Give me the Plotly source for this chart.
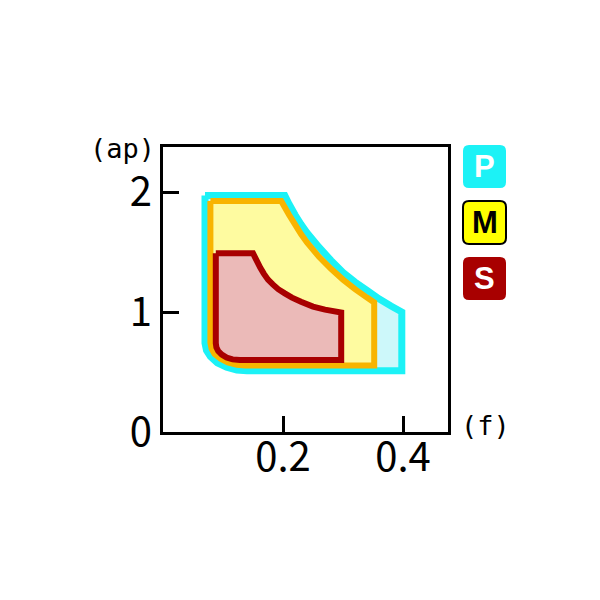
import plotly.graph_objects as go

# Region outlines (f, ap) (line centres)
p_f = [0.070, 0.203, 0.21, 0.22, 0.23, 0.24, 0.25, 0.26, 0.28, 0.30, 0.32, 0.34, 0.36, 0.38, 0.398,
       0.398, 0.140, 0.123, 0.106, 0.0905, 0.079, 0.0725, 0.070, 0.070]
p_ap = [1.97, 1.97, 1.90, 1.81, 1.73, 1.66, 1.60, 1.54, 1.43, 1.33, 1.25, 1.18, 1.11, 1.05, 1.00,
        0.51, 0.51, 0.517, 0.54, 0.577, 0.63, 0.68, 0.74, 1.97]

m_f = [0.079, 0.197, 0.21, 0.22, 0.23, 0.24, 0.25, 0.26, 0.28, 0.30, 0.32, 0.34, 0.352,
       0.352, 0.137, 0.123, 0.108, 0.096, 0.086, 0.081, 0.079, 0.079]
m_ap = [1.925, 1.925, 1.81, 1.73, 1.65, 1.58, 1.52, 1.46, 1.36, 1.27, 1.19, 1.12, 1.08,
        0.555, 0.555, 0.561, 0.58, 0.611, 0.65, 0.695, 0.745, 1.925]

s_f = [0.088, 0.150, 0.153, 0.157, 0.162, 0.168, 0.175, 0.183, 0.192, 0.203, 0.215, 0.23, 0.25,
       0.27, 0.297,
       0.297, 0.128, 0.116, 0.106, 0.098, 0.092, 0.089, 0.088, 0.088]
s_ap = [1.49, 1.49, 1.46, 1.42, 1.37, 1.32, 1.27, 1.23, 1.19, 1.155, 1.12, 1.085, 1.045,
        1.02, 0.995,
        0.60, 0.60, 0.605, 0.62, 0.645, 0.675, 0.705, 0.74, 1.49]

x_ticks = [0.2, 0.4]
x_ticktext = ["0.2", "0.4"]
y_ticks = [0, 1, 2]
y_ticktext = ["0", "1", "2"]

legend_labels = ["P", "M", "S"]

CYAN, CYAN_FILL = "#1CF2F6", "#CDF8FA"
ORANGE, YELLOW_FILL = "#F8B400", "#FEFBA0"
RED, PINK_FILL = "#A80000", "#EBBAB8"

fig = go.Figure()
for fx, fy, lc, fc, w in [(p_f, p_ap, CYAN, CYAN_FILL, 7),
                          (m_f, m_ap, ORANGE, YELLOW_FILL, 6),
                          (s_f, s_ap, RED, PINK_FILL, 6)]:
    fig.add_trace(go.Scatter(x=fx, y=fy, mode="lines", fill="toself",
                             fillcolor=fc, line=dict(color=lc, width=w, simplify=False),
                             hoverinfo="skip", showlegend=False))

tickfont = dict(family="Noto Sans CJK JP", size=40, color="black")
fig.update_xaxes(range=[0, 0.475], tickvals=x_ticks, ticktext=x_ticktext,
                 ticks="inside", ticklen=16, tickwidth=3, tickcolor="black",
                 showline=True, linewidth=3, linecolor="black", mirror=True,
                 showgrid=False, zeroline=False, tickfont=tickfont,
                 ticklabelstandoff=-12)
fig.update_yaxes(range=[0, 2.375], tickvals=y_ticks, ticktext=y_ticktext,
                 ticks="inside", ticklen=16, tickwidth=3, tickcolor="black",
                 showline=True, linewidth=3, linecolor="black", mirror=True,
                 showgrid=False, zeroline=False, tickfont=tickfont)

# page has an 8px body margin; plot area wanted at x 163..448, y 147..432
OFF = 8
L, T, S = 163 - OFF, 147 - OFF, 285.0
X0, Y0 = 163, 432  # reference pixel of origin


def rrect(x0, y0, x1, y1, rx, ry):
    return (f"M {x0+rx},{y0} L {x1-rx},{y0} Q {x1},{y0} {x1},{y0+ry} "
            f"L {x1},{y1-ry} Q {x1},{y1} {x1-rx},{y1} L {x0+rx},{y1} "
            f"Q {x0},{y1} {x0},{y1-ry} L {x0},{y0+ry} Q {x0},{y0} {x0+rx},{y0} Z")


box_specs = [(CYAN, "white", None),
             ("#FFFF00", "black", "black"),
             (RED, "white", None)]
for i, (lab, (bg, txtc, border)) in enumerate(zip(legend_labels, box_specs)):
    top_px = 145 + i * 56
    x0 = (463 - X0) / S
    x1 = (506 - X0) / S
    y1 = (Y0 - top_px) / S
    y0 = (Y0 - top_px - 43) / S
    r = 6 / S
    fig.add_shape(type="path", xref="paper", yref="paper",
                  path=rrect(x0, y0, x1, y1, r, r), fillcolor=bg,
                  line=dict(color=border if border else bg, width=2 if border else 0))
    fig.add_annotation(x=(x0 + x1) / 2, y=(y0 + y1) / 2, xref="paper", yref="paper",
                       text=f"<b>{lab}</b>", showarrow=False,
                       font=dict(family="Liberation Sans", size=31, color=txtc),
                       xanchor="center", yanchor="middle")

labfont = dict(family="DejaVu Sans Mono", size=27, color="black")
fig.add_annotation(x=(122 - X0) / S, y=(Y0 - 148) / S, xref="paper", yref="paper",
                   text="(ap)", showarrow=False, font=labfont,
                   xanchor="center", yanchor="middle")
fig.add_annotation(x=(485 - X0) / S, y=(Y0 - 425) / S, xref="paper", yref="paper",
                   text="(f)", showarrow=False, font=labfont,
                   xanchor="center", yanchor="middle")

fig.update_layout(width=600, height=600,
                  margin=dict(l=L, r=600 - L - S, t=T, b=600 - T - S),
                  paper_bgcolor="white", plot_bgcolor="white", showlegend=False)

fig.write_html("out.html")
